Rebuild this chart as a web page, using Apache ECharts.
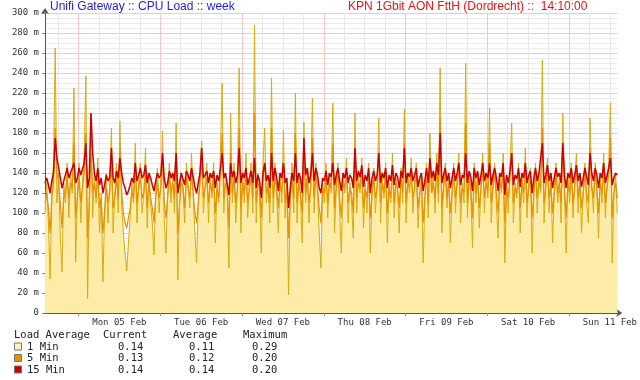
<!DOCTYPE html>
<html><head><meta charset="utf-8">
<script src="https://cdn.jsdelivr.net/npm/echarts@6/dist/echarts.min.js"></script>
<style>html,body{margin:0;padding:0;background:#fff}#c{width:640px;height:380px}</style>
</head><body><div id="c"></div>
<script>
// hours since Sun 04 Feb 00:00
const startHour = 14 + 10 / 60;
const spanHours = 168;
const dayLabels = ['Mon 05 Feb', 'Tue 06 Feb', 'Wed 07 Feb', 'Thu 08 Feb', 'Fri 09 Feb', 'Sat 10 Feb', 'Sun 11 Feb'];
const midnights = [24, 48, 72, 96, 120, 144, 168];
const noons = [36, 60, 84, 108, 132, 156, 180];
const minorLines = [18, 30, 36, 42, 54, 60, 66, 78, 84, 90, 102, 108, 114, 126, 132, 138, 150, 156, 162, 174, 180];
const titleLeft = 'Unifi Gateway :: CPU Load :: week';
const titleRight = 'KPN 1Gbit AON FttH (Dordrecht) ::  14:10:00';

// values in milli-load, one per 30 minutes
const oneMin = [
 100,130,90,34,120,150,265,110,140,75,41,130,110,150,95,140,120,225,51,120,150,90,130,160,
 237,14,120,200,95,140,110,155,80,120,31,100,140,90,130,185,80,120,150,100,192,110,80,60,
 42,70,95,130,110,170,90,130,150,100,120,165,85,140,110,90,58,120,145,100,130,182,95,60,
 120,150,110,140,100,190,33,110,140,125,90,150,130,105,160,120,80,50,110,145,172,100,130,150,
 90,140,115,150,70,130,110,160,230,100,140,120,45,200,110,150,90,130,245,80,140,110,160,95,
 130,150,100,288,90,140,120,60,150,185,110,130,90,235,100,150,120,80,140,110,183,95,130,18,
 120,150,100,220,90,140,115,70,191,110,145,90,130,215,100,150,120,80,45,130,110,150,95,140,
 120,210,80,130,150,100,60,140,120,155,90,130,110,75,200,100,140,120,155,85,130,100,150,60,
 120,145,100,130,195,90,140,115,150,70,130,110,160,95,135,120,80,145,110,204,90,140,120,155,
 100,130,150,85,120,140,50,110,150,95,180,120,140,100,160,110,245,80,130,150,105,140,70,120,
 150,100,135,160,90,130,110,250,95,140,120,65,150,110,140,85,130,160,100,140,115,205,90,130,
 150,110,75,140,120,160,50,130,100,145,190,90,130,115,150,80,140,110,165,95,130,145,60,120,
 150,100,140,120,253,90,130,155,100,140,70,120,150,110,135,90,200,120,60,140,110,150,95,130,
 160,100,140,80,120,150,110,90,195,130,100,150,120,75,140,110,160,95,130,150,210,50,120,140,
 100
];
const fiveMin = [
 110,120,105,80,115,130,185,140,130,110,85,115,120,135,115,130,125,170,95,115,135,110,125,140,
 180,75,110,160,120,130,115,140,105,115,80,100,125,110,120,150,105,115,135,115,165,120,100,90,
 85,95,105,120,115,150,110,125,135,115,120,140,105,130,115,105,90,115,130,115,125,155,110,95,
 115,135,120,130,115,160,80,110,130,125,105,135,125,115,140,120,100,90,110,130,150,115,125,135,
 110,130,120,135,100,125,115,140,180,115,130,125,85,160,120,135,110,125,185,105,130,120,140,110,
 125,135,115,200,110,130,125,95,135,150,120,125,110,185,115,135,125,105,130,120,150,110,125,75,
 115,135,115,180,110,130,120,100,165,120,135,110,125,175,115,140,125,105,90,125,120,135,110,130,
 125,170,105,125,140,115,95,130,125,140,110,125,120,100,165,115,130,125,140,105,125,115,135,95,
 120,135,115,125,160,110,130,120,140,100,125,115,145,110,130,125,105,135,120,170,110,130,125,140,
 115,125,140,105,120,130,90,115,140,110,150,120,130,115,145,120,195,105,125,140,115,130,100,120,
 140,115,130,145,110,125,120,190,110,135,125,95,140,120,135,105,125,145,115,130,120,170,110,125,
 140,120,100,130,125,145,90,125,115,135,160,110,125,120,140,105,130,120,150,110,125,135,95,120,
 140,115,130,125,185,110,125,145,115,130,100,120,140,120,130,110,170,125,95,130,120,140,110,125,
 145,115,130,105,120,140,120,110,165,125,115,140,125,100,130,120,145,110,125,140,175,95,120,130,
 115
];
const fifteenMin = [
 130,135,128,120,132,140,175,155,145,135,125,132,138,145,135,140,138,150,130,135,145,138,140,150,
 170,125,135,200,160,140,132,145,128,135,120,128,138,132,136,165,135,130,142,135,155,140,130,125,
 118,122,128,135,130,150,132,138,145,135,138,148,130,140,135,128,122,132,140,135,138,160,135,125,
 130,142,135,140,132,160,120,130,140,138,128,142,138,132,145,136,126,120,130,140,165,135,138,142,
 130,140,135,142,125,138,132,145,160,135,140,138,118,150,136,142,130,138,165,130,140,135,145,128,
 135,142,130,155,125,138,132,115,140,150,132,138,125,160,132,145,136,122,140,135,150,130,135,105,
 125,140,132,160,130,140,135,120,175,138,145,130,138,160,132,145,138,125,120,135,132,142,128,140,
 136,150,128,138,145,132,122,140,135,145,130,138,135,125,165,132,142,136,148,126,138,132,145,120,
 135,142,132,138,160,130,140,135,145,125,138,132,148,128,140,136,125,142,135,165,130,140,136,145,
 132,138,145,126,135,140,122,132,145,130,155,135,142,132,150,138,180,130,138,145,132,140,125,135,
 145,132,140,150,128,138,135,160,130,142,136,122,145,135,142,128,138,150,132,140,135,150,128,138,
 145,135,122,140,136,150,118,138,130,142,160,128,138,134,145,126,140,135,150,130,138,142,120,135,
 145,132,140,138,170,130,138,148,132,140,125,135,145,136,140,130,170,138,125,140,135,145,130,138,
 148,132,140,126,135,145,136,128,160,140,132,145,138,125,140,135,150,130,138,145,155,128,135,140,
 138
];

const legendHeader = ['Load Average', 'Current', 'Average', 'Maximum'];
const legendNames = ['1 Min', '5 Min', '15 Min'];
const currentVals = ['0.14', '0.13', '0.14'];
const averageVals = ['0.11', '0.12', '0.14'];
const maximumVals = ['0.29', '0.20', '0.20'];

const colors = {
  areaFill: '#FDEBA8', oneLine: '#D6AC10', five: '#EA8F00', fifteen: '#CC0000',
  legendBox: ['#FFF0B4', '#EA8F00', '#CC0000'],
  majorGrid: '#F8C4C4', minorGrid: '#ECECEC', vMinor: '#E8E8E8'
};

function pairs(arr) { return arr.map((v, i) => [startHour + i * spanHours / (arr.length - 1), v]); }

const mono = 'DejaVu Sans Mono';
const graphic = [
  { type: 'text', left: 50, top: 1, style: { text: titleLeft, font: '12px "Liberation Sans", Arial, sans-serif', fill: '#1c1cf0' } },
  { type: 'text', left: 348, top: 1, style: { text: titleRight, font: '12px "Liberation Sans", Arial, sans-serif', fill: '#f01010' } }
];
const colX = [14, 103, 173, 243];
const valX = [118, 189, 252];
const rowY = [335, 347, 358.5, 370];
legendHeader.forEach((t, i) => graphic.push({ type: 'text', x: colX[i], y: rowY[0], style: { text: t, font: '10.5px ' + mono, fill: '#222', textVerticalAlign: 'middle' } }));
legendNames.forEach((n, r) => {
  const y = rowY[r + 1];
  graphic.push({ type: 'rect', shape: { x: 14.5, y: y - 4, width: 7, height: 7 }, style: { fill: colors.legendBox[r], stroke: '#777', lineWidth: 1 } });
  graphic.push({ type: 'text', x: 27, y: y, style: { text: n, font: '10.5px ' + mono, fill: '#222', textVerticalAlign: 'middle' } });
  [currentVals[r], averageVals[r], maximumVals[r]].forEach((v, c) => graphic.push({ type: 'text', x: valX[c], y: y, style: { text: v, font: '10.5px ' + mono, fill: '#222', textVerticalAlign: 'middle' } }));
});

const xBase = { type: 'value', min: startHour, max: startHour + spanHours, position: 'bottom' };
const option = {
  animation: false,
  backgroundColor: '#fff',
  grid: { left: 45, right: 13, top: 13, bottom: 67, containLabel: false },
  graphic: graphic,
  xAxis: [
    Object.assign({}, xBase, {
      axisLine: { show: true, lineStyle: { color: '#555', width: 1 }, symbol: ['none', 'arrow'], symbolSize: [6, 6], symbolOffset: [0, 5] },
      axisTick: { show: false, customValues: minorLines },
      axisLabel: { show: false },
      splitLine: { show: true, lineStyle: { color: colors.vMinor, width: 1 } }
    }),
    Object.assign({}, xBase, {
      axisLine: { show: false },
      axisTick: { show: true, length: 3, customValues: midnights, lineStyle: { color: '#d77' } },
      axisLabel: {
        show: true, customValues: noons, margin: 5, fontFamily: mono, fontSize: 9, color: '#333',
        formatter: v => dayLabels[noons.indexOf(Math.round(v))] || ''
      },
      splitLine: { show: true, lineStyle: { color: colors.majorGrid, width: 1 } }
    })
  ],
  yAxis: {
    type: 'value', min: 0, max: 300, interval: 20,
    axisLine: { show: true, lineStyle: { color: '#555', width: 1 }, symbol: ['none', 'arrow'], symbolSize: [6, 6], symbolOffset: [0, 5] },
    axisTick: { show: true, length: 3, lineStyle: { color: '#888' } },
    axisLabel: { fontFamily: mono, fontSize: 9, color: '#333', margin: 6, formatter: v => v === 0 ? '0' : v + ' m' },
    splitLine: { show: true, lineStyle: { color: colors.majorGrid, width: 1 } },
    minorTick: { show: false, splitNumber: 4 },
    minorSplitLine: { show: true, lineStyle: { color: colors.minorGrid, width: 1 } }
  },
  series: [
    { name: '1 Min', type: 'line', xAxisIndex: 0, data: pairs(oneMin), symbol: 'none',
      lineStyle: { color: colors.oneLine, width: 1 }, areaStyle: { color: colors.areaFill, opacity: 1 }, z: 2 },
    { name: '5 Min', type: 'line', xAxisIndex: 0, data: pairs(fiveMin), symbol: 'none',
      lineStyle: { color: colors.five, width: 1.2 }, z: 3 },
    { name: '15 Min', type: 'line', xAxisIndex: 0, data: pairs(fifteenMin), symbol: 'none',
      lineStyle: { color: colors.fifteen, width: 1.5 }, z: 4 }
  ]
};
const chart = echarts.init(document.getElementById('c'), null, { renderer: 'canvas' });
chart.setOption(option);
</script>
</body></html>
